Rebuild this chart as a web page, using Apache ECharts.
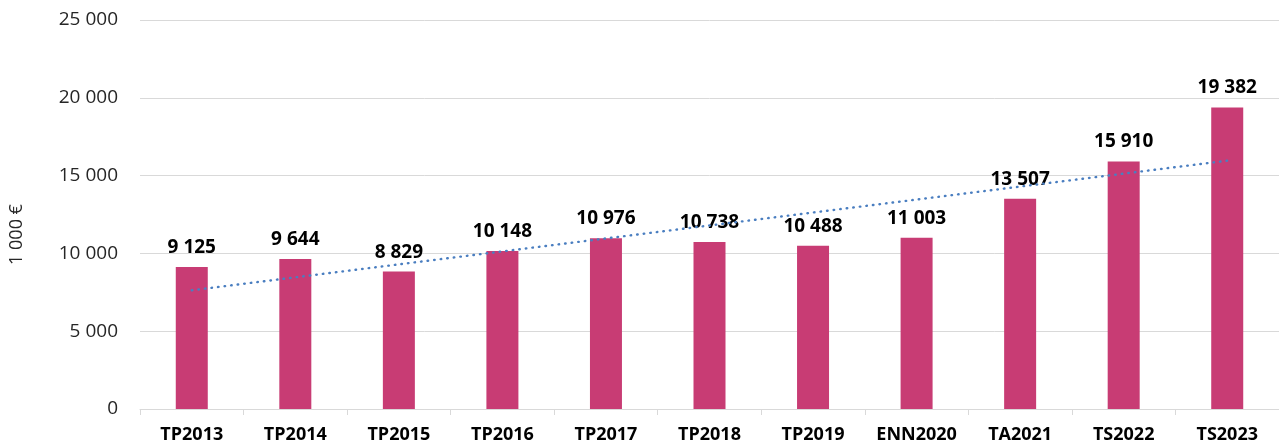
<!DOCTYPE html>
<html>
<head>
<meta charset="utf-8">
<script src="https://cdn.jsdelivr.net/npm/echarts@6/dist/echarts.min.js"></script>
<style>
  html, body { margin: 0; padding: 0; background: #fff; }
  #main { width: 1279px; height: 448px; }
</style>
</head>
<body>
<div id="main"></div>
<script>
// categories and values
var categories = ['TP2013', 'TP2014', 'TP2015', 'TP2016', 'TP2017', 'TP2018', 'TP2019', 'ENN2020', 'TA2021', 'TS2022', 'TS2023'];
var values = [9125, 9644, 8829, 10148, 10976, 10738, 10488, 11003, 13507, 15910, 19382];
// trend line ends
var trendEnds = [7630, 15960];
var yTicks = { min: 0, max: 25000, interval: 5000 };

function spaced(v) {
    return String(v).replace(/\B(?=(\d{3})+(?!\d))/g, ' ');
}

var trend = categories.map(function (c, i) {
    if (i === 0) return trendEnds[0];
    if (i === categories.length - 1) return trendEnds[1];
    return null;
});

var chart = echarts.init(document.getElementById('main'));
chart.setOption({
    animation: false,
    textStyle: { fontFamily: '"Open Sans", "Noto Sans", sans-serif' },
    grid: { left: 140, right: 0, top: 20, bottom: 39, containLabel: false },
    xAxis: {
        type: 'category',
        data: categories,
        axisLine: { lineStyle: { color: '#d9d9d9', width: 1 } },
        axisTick: { show: true, interval: 0, length: 6, lineStyle: { color: '#d9d9d9' } },
        axisLabel: { interval: 0, color: '#000', fontWeight: 'bold', fontSize: 18, margin: 17 }
    },
    yAxis: {
        type: 'value',
        min: yTicks.min,
        max: yTicks.max,
        interval: yTicks.interval,
        name: '1 000 €',
        nameLocation: 'middle',
        nameGap: 114,
        nameTextStyle: { color: '#262626', fontSize: 18, padding: [0, 40, 0, 0] },
        axisLine: { show: false },
        axisTick: { show: false },
        splitLine: { lineStyle: { color: '#d9d9d9', width: 1 } },
        axisLabel: { color: '#262626', fontSize: 19, margin: 22, formatter: spaced }
    },
    series: [
        {
            type: 'bar',
            data: values,
            barWidth: 32,
            itemStyle: { color: '#c83c74' },
            label: {
                show: true,
                position: 'top',
                distance: 10,
                color: '#000',
                fontWeight: 'bold',
                fontSize: 19,
                formatter: function (p) { return spaced(p.value); }
            },
            z: 2
        },
        {
            type: 'line',
            data: trend,
            connectNulls: true,
            symbol: 'none',
            lineStyle: { color: '#4a7ec0', width: 2.4, type: [0.6, 6], cap: 'round' },
            z: 3
        }
    ]
});
</script>
</body>
</html>
